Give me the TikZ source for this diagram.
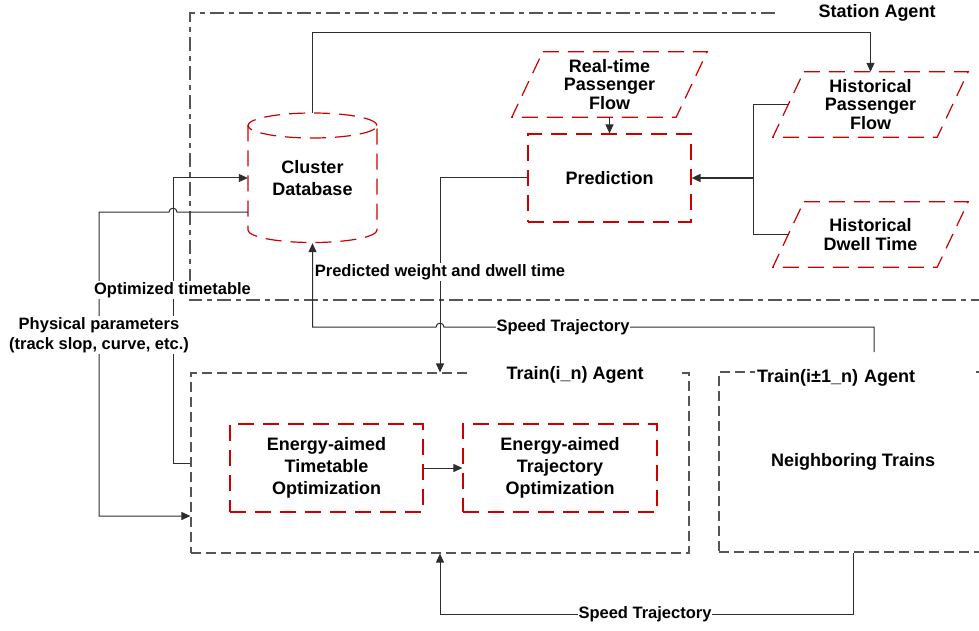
\documentclass[tikz,border=0pt]{standalone}
\usepackage{fontspec}
\setmainfont{Liberation Sans}
\usetikzlibrary{arrows.meta,calc}
\definecolor{myred}{RGB}{204,0,0}
\definecolor{dk}{RGB}{45,45,45}
\definecolor{gr}{RGB}{85,85,85}
\begin{document}
\begin{tikzpicture}[x=1pt,y=-1pt,
  font=\fontsize{18}{22}\selectfont\bfseries,
  reddash/.style={draw=myred, line width=1.2pt, dash pattern=on 16pt off 9pt},
  agentdash/.style={draw=gr, line width=1.2pt, dash pattern=on 10pt off 5pt},
  stationdash/.style={draw=gr, line width=1.2pt, dash pattern=on 14pt off 5pt on 5pt off 5pt},
  conn/.style={draw=dk, line width=1pt},
  arr/.style={-{Triangle[length=9pt,width=8pt]}},
  lbl/.style={font=\fontsize{16.5}{20}\selectfont\bfseries, fill=white, inner xsep=1pt, inner ysep=1pt, align=center, text=black},
  box/.style={align=center, inner sep=0pt, text=black},
  para/.style={box, font=\fontsize{18}{18.5}\selectfont\bfseries, minimum width=195pt, minimum height=65pt},
]
\useasboundingbox (0,0) rectangle (979,631);

% Station agent frame
\draw[stationdash] (775,13) -- (190,13) -- (190,300) -- (990,300);
\node[box] (stl) at (877,13) {Station Agent};

% Cluster database (cylinder)
\node[box, minimum width=129pt, minimum height=130pt] (db) at (312.5,178) {Cluster\\Database};
\draw[reddash] (312.5,125.5) ellipse [x radius=64.5pt, y radius=12.5pt];
\draw[reddash] (248,125.5) -- (248,230) .. controls (248,236.9) and (276.9,242.5) .. (312.5,242.5)
  .. controls (348.1,242.5) and (377,236.9) .. (377,230) -- (377,125.5);

% Parallelograms
\node[para] (rt) at (609.5,84.5) {Real-time\\Passenger\\Flow};
\draw[reddash] ([xshift=31pt]rt.north west) -- (rt.north east) -- ([xshift=-31pt]rt.south east) -- (rt.south west) -- cycle;
\node[para] (hpf) at (870.5,104.5) {Historical\\Passenger\\Flow};
\draw[reddash] ([xshift=31pt]hpf.north west) -- (hpf.north east) -- ([xshift=-31pt]hpf.south east) -- (hpf.south west) -- cycle;
\node[para] (hdt) at (870.5,234.5) {Historical\\Dwell Time};
\draw[reddash] ([xshift=31pt]hdt.north west) -- (hdt.north east) -- ([xshift=-31pt]hdt.south east) -- (hdt.south west) -- cycle;

% Prediction
\node[box, reddash, minimum width=163pt, minimum height=88pt] (pred) at (609.5,178) {Prediction};

% Train agents
\node[box, agentdash, minimum width=498pt, minimum height=180pt] (tr) at (440,463) {};
\node[box, fill=white, minimum width=210pt, inner ysep=3pt] (trl) at (575,375) {Train(i\_n) Agent};
\node[box, reddash, minimum width=193pt, minimum height=88pt] (tt) at (326.5,468) {Energy-aimed\\Timetable\\Optimization};
\node[box, reddash, minimum width=194pt, minimum height=88pt] (tj) at (560,468) {Energy-aimed\\Trajectory\\Optimization};

\node[box, agentdash, minimum width=268pt, minimum height=180pt] (nb) at (853,462) {\raisebox{-2pt}{Neighboring Trains}};
\node[box, fill=white, anchor=west, text width=217pt, align=left, inner xsep=2pt, inner ysep=3pt] (nbl) at (755,378) {Train(i±1\_n) Agent};

% Connectors
\coordinate (topc) at (870.5,33);
\draw[conn,arr] (db.north) |- (topc) -- (hpf.north);
\draw[conn,arr] (rt.south) -- (pred.north);

\coordinate (hpfL) at ([xshift=15.5pt]hpf.west);
\coordinate (hdtL) at ([xshift=15.5pt]hdt.west);
\coordinate (br) at (753,178);
\draw[conn] (hpfL) -| (br) |- (hdtL);
\draw[conn, line width=1.6pt, arr] (br) -- (pred.east);

\draw[conn,arr] (pred.west) -| (tr.north);
\node[lbl] (lp) at (440,272) {Predicted weight and dwell time};

\coordinate (nbst) at (874,352);
\draw[conn,arr] (nbst) -- (874,327) -- (444,327) .. controls (444,322) and (436,322) .. (436,327) -- (312.5,327) -- (db.south);
\node[lbl] (ls1) at (563,327) {Speed Trajectory};

\draw[conn,arr] (tr.west) -- (173,463) |- (db.west);
\draw[conn,arr] ([yshift=-34pt]db.west) -- (177,212) .. controls (177,207) and (169,207) .. (169,212) -- (99,212) |- ([yshift=-53pt]tr.west);
\node[lbl] (lo) at (172.5,290) {Optimized timetable};
\node[lbl] (lph) at (99,335) {Physical parameters\\(track slop, curve, etc.)};

\draw[conn,arr] (tt.east) -- (tj.west);

\coordinate (bot) at (440,614);
\draw[conn,arr] (nb.south) |- (bot) -- (tr.south);
\node[lbl] (ls2) at (645,614) {Speed Trajectory};
\end{tikzpicture}
\end{document}
